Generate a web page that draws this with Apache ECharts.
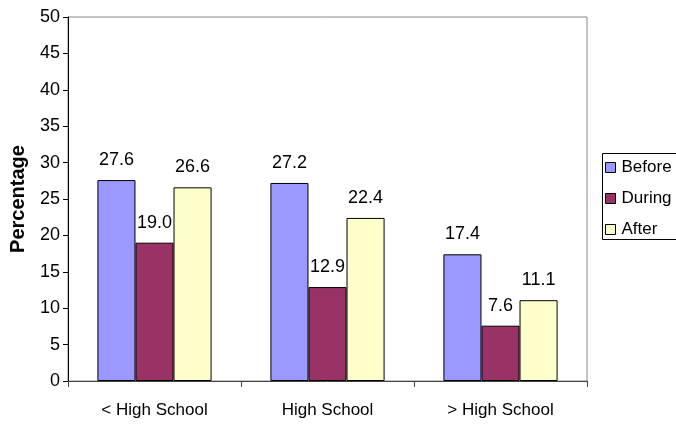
<!DOCTYPE html>
<html>
<head>
<meta charset="utf-8">
<script src="https://cdn.jsdelivr.net/npm/echarts@6/dist/echarts.min.js"></script>
<style>
  html, body { margin: 0; padding: 0; background: #fff; }
  #chart { width: 676px; height: 425px; }
</style>
</head>
<body>
<div id="chart"></div>
<script>
// Education level groups along the x axis
const categories = ['< High School', 'High School', '> High School'];

// Percentages per period
const beforeValues = [27.6, 27.2, 17.4];
const duringValues = [19.0, 12.9, 7.6];
const afterValues = [26.6, 22.4, 11.1];

const seriesNames = ['Before', 'During', 'After'];
const seriesColors = ['#9999FF', '#993366', '#FFFFCC'];

const FONT = '"Liberation Sans", Arial, sans-serif';

const chart = echarts.init(document.getElementById('chart'), null, { renderer: 'canvas' });

function barSeries(name, values, color) {
  return {
    name: name,
    type: 'bar',
    data: values,
    barGap: '0%',
    barCategoryGap: '34%',
    itemStyle: { color: color, borderColor: '#000', borderWidth: 1 },
    label: {
      show: true,
      position: 'top',
      distance: 11,
      color: '#000',
      fontFamily: FONT,
      fontSize: 18,
      formatter: p => p.value.toFixed(1)
    }
  };
}

chart.setOption({
  animation: false,
  backgroundColor: '#fff',
  grid: {
    left: 65, right: 89, top: 17, bottom: 44,
    show: true, borderColor: '#888', borderWidth: 1
  },
  legend: {
    orient: 'vertical',
    left: 605, top: 159,
    padding: 0,
    itemWidth: 10, itemHeight: 10, itemGap: 14,
    icon: 'rect',
    itemStyle: { borderColor: '#000', borderWidth: 1 },
    textStyle: { fontFamily: FONT, fontSize: 17, color: '#000', lineHeight: 17, padding: [0, 0, 0, 1] },
    data: seriesNames
  },
  graphic: [{
    type: 'rect',
    left: 600, top: 151,
    shape: { width: 100, height: 86 },
    style: { fill: 'none', stroke: '#000', lineWidth: 1 },
    z: 10
  }],
  xAxis: {
    type: 'category',
    data: categories,
    axisLine: { lineStyle: { color: '#444', width: 1 } },
    axisTick: { show: true, length: 6, lineStyle: { color: '#444' } },
    axisLabel: { color: '#000', fontFamily: FONT, fontSize: 17, margin: 21 }
  },
  yAxis: {
    type: 'value',
    min: 0, max: 50, interval: 5,
    name: 'Percentage',
    nameLocation: 'middle',
    nameRotate: 90,
    nameGap: 40,
    nameTextStyle: { fontFamily: FONT, fontSize: 20, fontWeight: 'bold', color: '#000' },
    splitLine: { show: false },
    axisLine: { show: true, lineStyle: { color: '#000', width: 1 } },
    axisTick: { show: true, length: 5, lineStyle: { color: '#000' } },
    axisLabel: { color: '#000', fontFamily: FONT, fontSize: 18, margin: 8 }
  },
  series: [
    barSeries(seriesNames[0], beforeValues, seriesColors[0]),
    barSeries(seriesNames[1], duringValues, seriesColors[1]),
    barSeries(seriesNames[2], afterValues, seriesColors[2])
  ]
});
</script>
</body>
</html>
